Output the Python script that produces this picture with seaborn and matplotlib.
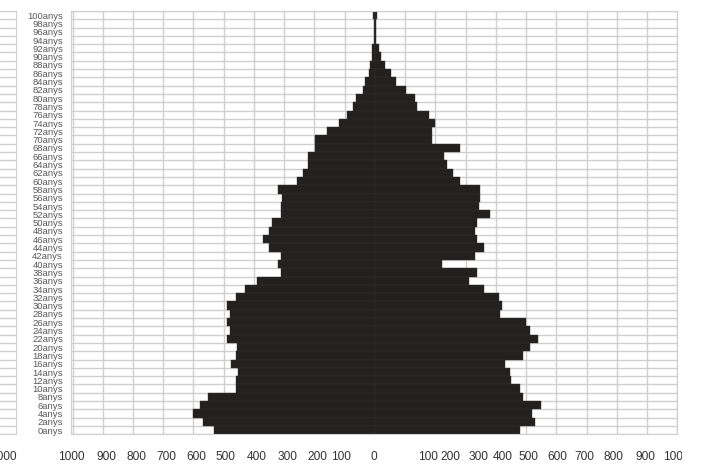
import numpy as np
import pandas as pd
import matplotlib
matplotlib.use("Agg")
import matplotlib.pyplot as plt
import seaborn as sns
from matplotlib.transforms import Bbox

# edats de 2 en 2 anys
edats = list(range(0, 101, 2))
etiquetes = [f"{e}anys" for e in edats]

# costat esquerre (0anys ... 100anys)
homes = [531, 570, 600, 580, 552, 459, 459, 452, 476, 460,
         455, 489, 478, 489, 478, 489, 460, 429, 390, 311,
         320, 310, 350, 370, 350, 341, 311, 311, 306, 322,
         259, 239, 220, 220, 198, 198, 159, 119, 91, 71,
         61, 41, 33, 21, 16, 10, 8, 4, 3, 3, 5]
# costat dret
dones = [479, 528, 518, 548, 489, 479, 449, 448, 430, 490,
         512, 539, 512, 501, 415, 420, 409, 360, 310, 338,
         222, 332, 360, 338, 332, 338, 380, 343, 349, 349,
         280, 259, 239, 230, 280, 190, 190, 200, 180, 140,
         131, 102, 71, 52, 34, 20, 12, 5, 4, 4, 6]

eix_valors = list(range(-1000, 1001, 100))
eix_text = [str(abs(v)) for v in eix_valors]
# on surten els textos de l'eix (no sempre sobre la línia)
eix_pos = [-1004, -889, -790, -691, -592, -493, -391, -289, -190, -113, -3,
           177, 250, 342, 422, 507, 603, 692, 788, 893, 998]

sns.set_style("white")
plt.rcParams["font.family"] = ["Liberation Sans", "DejaVu Sans"]

df = pd.DataFrame({
    "edat": etiquetes * 2,
    "valor": [-h for h in homes] + dones,
    "sexe": ["homes"] * len(homes) + ["dones"] * len(dones),
})
ordre = etiquetes[::-1]

W, H = 704, 466
fig = plt.figure(figsize=(W / 100, H / 100), dpi=100)
gris = "#cfcfcf"
pos = [71.3 / W, 1 - 434.3 / H, 606 / W, 423.3 / H]

# tros del panell veí que queda tallat a l'esquerra
axl = fig.add_axes([-0.1, pos[1], 0.1 + 16 / W, pos[3]])
axl.set_ylim(len(edats) - 0.5, -0.5)
axl.set_yticks(np.arange(-0.5, len(edats), 1))
axl.set_yticklabels([])
axl.set_xticks([])
axl.tick_params(length=0)
axl.grid(axis="y", color=gris, lw=1)
for s in axl.spines.values():
    s.set_color(gris)

ax = fig.add_axes(pos)
sns.barplot(data=df, x="valor", y="edat", hue="sexe", order=ordre,
            palette=["#231f20", "#231f20"], width=1, dodge=False,
            errorbar=None, legend=False, ax=ax,
            edgecolor="#343132", linewidth=0.3)

ax.set_xlim(-1000, 1000)
ax.set_ylim(len(edats) - 0.5, -0.5)
ax.set_xlabel("")
ax.set_ylabel("")
ax.set_axisbelow(True)

ax.set_xticks(eix_valors)
ax.set_xticklabels([])
ax.set_xticks(eix_pos, eix_text, minor=True)
ax.set_yticks(np.arange(-0.5, len(edats), 1), minor=True)
ax.grid(which="major", axis="x", color=gris, lw=1)
ax.grid(which="minor", axis="y", color=gris, lw=1)
ax.tick_params(which="both", length=0)
ax.tick_params(axis="x", which="minor", labelsize=8.6, pad=12, labelcolor="#333333")
ax.tick_params(axis="y", labelsize=6.8, pad=6, labelcolor="#58595b")
for s in ax.spines.values():
    s.set_color(gris)

# el darrer "1000" queda tallat
ultim = ax.get_xticklabels(minor=True)[-1]
ultim.set_clip_box(Bbox([[0, 0], [682, H]]))
ultim.set_clip_on(True)

fig.text(3.7 / W, 1 - 456.7 / H, "1000", ha="center", va="center",
         fontsize=8.6, color="#333333")

fig.savefig("out.png", dpi=100)
